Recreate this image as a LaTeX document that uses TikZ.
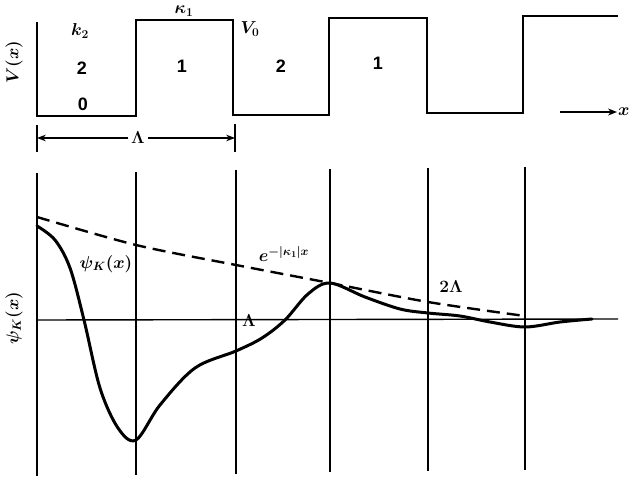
\documentclass[tikz,border=0pt]{standalone}
\usepackage{fontspec}
\setmainfont{Liberation Sans}
\usetikzlibrary{arrows.meta,positioning,calc}

\begin{document}
\begin{tikzpicture}[x=1pt, y=-1pt,
  every node/.style={font=\bfseries\boldmath\fontsize{18}{21}\selectfont, inner sep=1pt},
  wave/.style={line width=2.6pt, line join=miter},
  cell/.style={line width=2.3pt},
  axis/.style={line width=1.4pt},
  envelope/.style={line width=2.4pt, dash pattern=on 13pt off 7pt},
  psi/.style={line width=3pt, line cap=round, line join=round},
  >=Stealth
]
\useasboundingbox (0,0) rectangle (635,481);

% square-well potential
\draw[wave] (37,22) -- (37,116) -- (136,116) -- (136,20) -- (233,20) -- (233,115)
  -- (329,115) -- (329,18) -- (427,18) -- (427,113) -- (523,113) -- (523,16) -- (618,16);

\node (k2) at (80,31) {$k_2$};
\node[anchor=base, inner sep=0pt] (kap1) at (184,14) {$\kappa_1$};
\node (V0) at (250,29) {$V_0$};
\node (w1) at (82,68) {2};
\node (b1) at (182,66) {1};
\node (w2) at (281,66) {2};
\node (b2) at (378,63) {1};
\node (zero) at (83,104) {0};
\node[rotate=90] (Vx) at (14,62) {$V(x)$};

% x direction
\coordinate (xs) at (560,112);
\node[anchor=west] (xlab) at (617,112) {$x$};
\draw[-{Stealth[length=9pt,width=7pt]}, line width=2pt] (xs) -- (xlab.west);

% one period
\coordinate (p0) at (37,138);
\coordinate (p1) at (235,138);
\draw[line width=1.8pt] (37,125) -- (37,152);
\draw[line width=1.8pt] (235,124) -- (235,152);
\node[fill=white, inner sep=3pt] (Lam) at (138,138) {$\Lambda$};
\draw[->, line width=1.3pt] (Lam.west) -- (p0);
\draw[->, line width=1.3pt] (Lam.east) -- (p1);

% cell boundaries
\foreach \xx/\yt/\yb in {37/173/476, 136/172/475, 236/170/474, 330/169/472, 428/168/471, 525/167/470}
  \draw[cell] (\xx,\yt) -- (\xx,\yb);

\draw[axis] (37,320) -- (618,319);

% envelope and wave function
\draw[envelope] plot[smooth] coordinates {(37,217) (136,245) (236,265) (330,283) (428,302) (525,316)};
\draw[psi] plot[smooth, tension=0.55] coordinates {(37,226) (55,240) (70,268) (84,320) (100,388)
  (118,428) (136,440) (160,405) (195,368) (236,351) (262,338) (285,320) (308,294) (330,283)
  (365,297) (400,309) (428,313) (460,316) (490,322) (525,327) (560,322) (592,319)};

\node (psilab) at (106,264) {$\psi_K(x)$};
\node (env) at (284,254) {$e^{-|\kappa_1|x}$};
\node (Lam1) at (249,321) {$\Lambda$};
\node (Lam2) at (451,287) {$2\Lambda$};
\node[rotate=90] (psiy) at (14,318) {$\psi_K(x)$};
\end{tikzpicture}
\end{document}
